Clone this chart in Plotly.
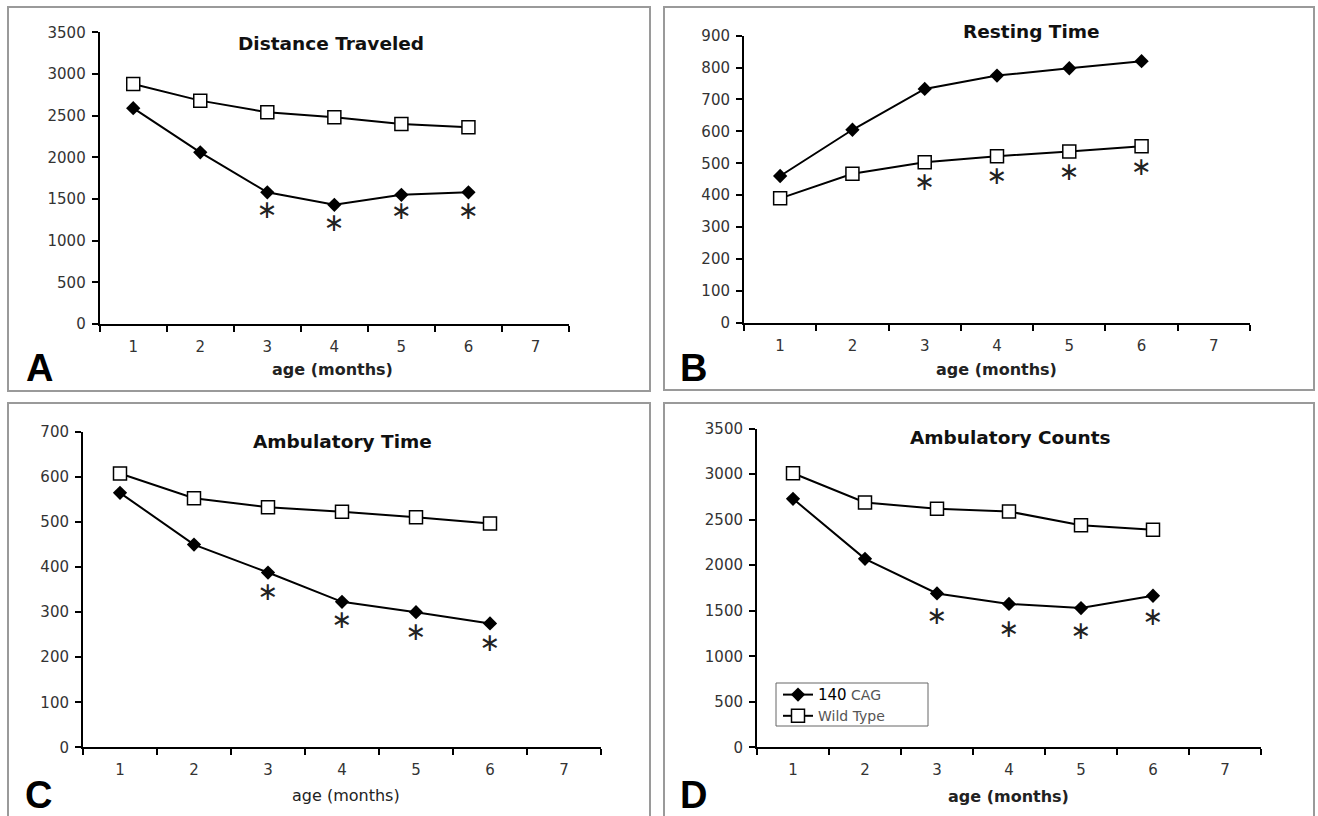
import plotly.graph_objects as go

W, H = 1318, 816

# ---------------- data ----------------
months = [1, 2, 3, 4, 5, 6]
tick_vals = [1, 2, 3, 4, 5, 6, 7]
tick_labels = ["1", "2", "3", "4", "5", "6", "7"]
sig_months = [3, 4, 5, 6]

# A: Distance Traveled
dist_cag = [2590, 2060, 1580, 1430, 1550, 1580]
dist_wt = [2880, 2680, 2540, 2480, 2400, 2360]
dist_sig = [1350, 1190, 1330, 1335]

# B: Resting Time
rest_cag = [460, 605, 733, 775, 798, 820]
rest_wt = [390, 467, 503, 522, 537, 553]
rest_sig = [436, 456, 468, 482]

# C: Ambulatory Time
atime_cag = [565, 450, 388, 323, 300, 275]
atime_wt = [608, 553, 533, 523, 511, 497]
atime_sig = [342, 278, 252, 227]

# D: Ambulatory Counts
acount_cag = [2730, 2070, 1690, 1575, 1530, 1665]
acount_wt = [3010, 2690, 2620, 2590, 2440, 2390]
acount_sig = [1423, 1283, 1257, 1415]

series_names = ["140 CAG", "Wild Type"]

# ---------------- layout helpers ----------------
def px(x):
    return x / W

def py(y):
    return 1 - y / H

panels = [
    dict(title="Distance Traveled", cag=dist_cag, wt=dist_wt, sig=dist_sig,
         ymax=3500, dtick=500, xdom=(99.7, 569), ydom=(324, 32.3),
         title_xy=(331, 43), xlab_xy=(332, 370), xlab_bold=True,
         letter="A", letter_xy=(39, 368), border=(8, 7, 650, 391)),
    dict(title="Resting Time", cag=rest_cag, wt=rest_wt, sig=rest_sig,
         ymax=900, dtick=100, xdom=(744, 1250), ydom=(322.7, 35.7),
         title_xy=(1031, 32), xlab_xy=(996, 370), xlab_bold=True,
         letter="B", letter_xy=(693, 368), border=(664, 7, 1314, 390)),
    dict(title="Ambulatory Time", cag=atime_cag, wt=atime_wt, sig=atime_sig,
         ymax=700, dtick=100, xdom=(83, 601), ydom=(747.3, 432),
         title_xy=(342, 442), xlab_xy=(346, 795), xlab_bold=False,
         letter="C", letter_xy=(38, 795), border=(8, 403, 650, 830)),
    dict(title="Ambulatory Counts", cag=acount_cag, wt=acount_wt, sig=acount_sig,
         ymax=3500, dtick=500, xdom=(757, 1261), ydom=(747.3, 428.7),
         title_xy=(1010, 437), xlab_xy=(1008, 796), xlab_bold=True,
         letter="D", letter_xy=(693, 795), border=(664, 403, 1314, 830)),
]

FONT = "DejaVu Sans"
fig = go.Figure()
annotations = []
shapes = []

for i, p in enumerate(panels):
    n = "" if i == 0 else str(i + 1)
    xa, ya = "x" + n, "y" + n
    show_leg = (i == 3)
    fig.add_trace(go.Scatter(
        x=months, y=p["cag"], mode="lines+markers", name=series_names[0],
        xaxis=xa, yaxis=ya, showlegend=show_leg,
        line=dict(color="black", width=2),
        marker=dict(symbol="diamond", size=11, color="black"),
    ))
    fig.add_trace(go.Scatter(
        x=months, y=p["wt"], mode="lines+markers", name=series_names[1],
        xaxis=xa, yaxis=ya, showlegend=show_leg,
        line=dict(color="black", width=2),
        marker=dict(symbol="square", size=13, color="white",
                    line=dict(color="black", width=1.5)),
    ))
    fig.add_trace(go.Scatter(
        x=sig_months, y=p["sig"], mode="text", text=["∗"] * len(sig_months),
        textposition="middle center", xaxis=xa, yaxis=ya, showlegend=False,
        textfont=dict(family=FONT, size=25, color="#222"), hoverinfo="skip",
    ))

    x0, x1 = p["xdom"]
    yb, yt = p["ydom"]
    fig.layout["xaxis" + n] = dict(
        domain=[px(x0), px(x1)], anchor=ya, range=[0.5, 7.5],
        tickmode="array", tickvals=tick_vals, ticktext=tick_labels,
        ticks="", showline=True, linecolor="black", linewidth=2,
        showgrid=False, zeroline=False, ticklabelstandoff=8,
        tickfont=dict(family=FONT, size=15, color="#333"),
        minor=dict(ticks="outside", tick0=0.5, dtick=1, ticklen=6,
                   tickwidth=2, tickcolor="black", showgrid=False),
    )
    fig.layout["yaxis" + n] = dict(
        domain=[py(yb), py(yt)], anchor=xa, range=[0, p["ymax"]],
        tickmode="linear", tick0=0, dtick=p["dtick"],
        ticks="outside", ticklen=6, tickwidth=2, tickcolor="black",
        showline=True, linecolor="black", linewidth=2,
        showgrid=False, zeroline=False, ticklabelstandoff=3,
        tickfont=dict(family=FONT, size=15, color="#333"),
    )

    tx, ty = p["title_xy"]
    annotations.append(dict(
        text="<b>" + p["title"] + "</b>", x=px(tx), y=py(ty), xref="paper", yref="paper",
        xanchor="center", yanchor="middle", showarrow=False,
        font=dict(family=FONT, size=18.5, color="#111")))
    lx, ly = p["xlab_xy"]
    lab = "age (months)"
    annotations.append(dict(
        text=("<b>" + lab + "</b>") if p["xlab_bold"] else lab,
        x=px(lx), y=py(ly), xref="paper", yref="paper",
        xanchor="center", yanchor="middle", showarrow=False,
        font=dict(family=FONT, size=16, color="#222")))
    cx, cy = p["letter_xy"]
    annotations.append(dict(
        text="<b>" + p["letter"] + "</b>", x=px(cx), y=py(cy), xref="paper", yref="paper",
        xanchor="center", yanchor="middle", showarrow=False,
        font=dict(family="Liberation Sans", size=38, color="black")))
    bx0, by0, bx1, by1 = p["border"]
    shapes.append(dict(type="rect", xref="paper", yref="paper",
                       x0=px(bx0), x1=px(bx1), y0=py(by1), y1=py(by0),
                       line=dict(color="#9a9a9a", width=2)))

# legend box
shapes.append(dict(type="rect", xref="paper", yref="paper",
                   x0=px(776), x1=px(928), y0=py(726), y1=py(683),
                   line=dict(color="#666", width=1)))

fig.update_layout(
    width=W, height=H, margin=dict(l=0, r=0, t=0, b=0),
    paper_bgcolor="white", plot_bgcolor="white", template="none",
    annotations=annotations, shapes=shapes,
    legend=dict(x=px(778), y=py(679), xanchor="left", yanchor="top",
                bgcolor="rgba(0,0,0,0)", borderwidth=0, tracegroupgap=0,
                font=dict(family=FONT, size=14, color="#555")),
)
fig.data[9].name = "<span style='color:black;font-size:15px'>140</span> CAG"

fig.write_html("out.html", config={"displayModeBar": False},
               post_script="document.body.style.margin='0';document.body.style.overflow='hidden';")
